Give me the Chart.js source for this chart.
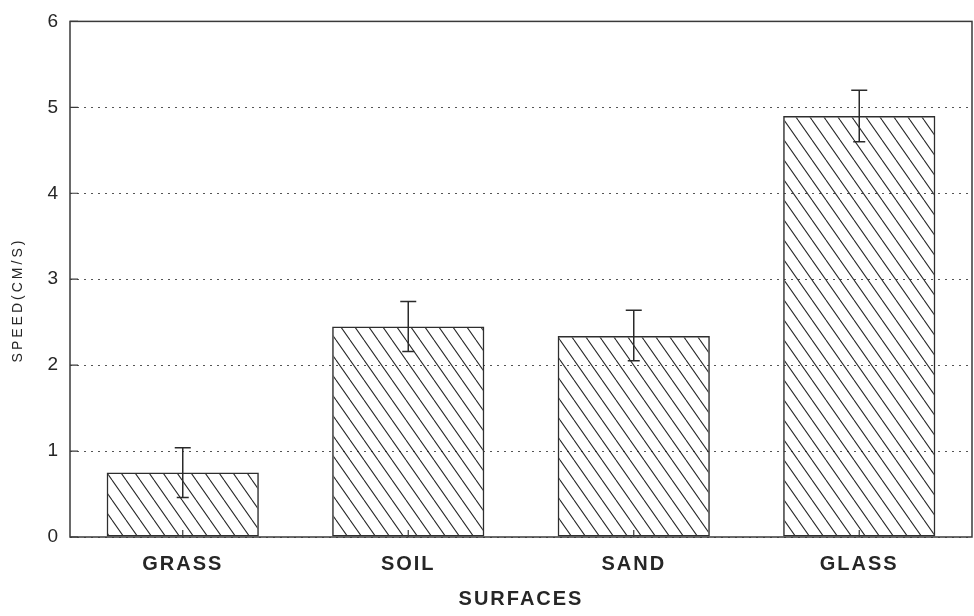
<!DOCTYPE html>
<html>
<head>
<meta charset="utf-8">
<script src="https://cdn.jsdelivr.net/npm/chart.js@4"></script>
<style>
  html, body { margin: 0; padding: 0; background: #fff; }
</style>
</head>
<body>
<canvas id="c" width="974" height="616"></canvas>
<script>
// Mean crawling speed per surface, with error bar half-widths
const surfaces = ['GRASS', 'SOIL', 'SAND', 'GLASS'];
const meanSpeed = [0.75, 2.45, 2.34, 4.90];
const errUpper = [0.29, 0.29, 0.30, 0.30];
const errLower = [0.29, 0.29, 0.29, 0.30];
const yTicks = [0, 1, 2, 3, 4, 5, 6];
const yTitle = 'SPEED(CM/S)';
const xTitle = 'SURFACES';

const INK = '#262626';

// Diagonal (top-left to bottom-right) hatch fill for the bars
function makeHatch() {
  const w = 14, h = 20;
  const tile = document.createElement('canvas');
  tile.width = w; tile.height = h;
  const g = tile.getContext('2d');
  g.strokeStyle = '#2a2a2a';
  g.lineWidth = 1.1;
  g.beginPath();
  for (const dx of [-w, 0, w]) {
    g.moveTo(dx, 0);
    g.lineTo(dx + w, h);
  }
  g.stroke();
  return g.createPattern(tile, 'repeat');
}

// Frame, inward tick marks, letter spacing and rotated y title
const framePlugin = {
  id: 'frame',
  beforeDraw(chart) {
    chart.ctx.letterSpacing = '2px';
  },
  afterDraw(chart) {
    const { ctx, chartArea: a, scales } = chart;
    ctx.save();
    ctx.letterSpacing = '0px';
    ctx.strokeStyle = '#3a3a3a';
    ctx.lineWidth = 1.5;
    ctx.strokeRect(a.left, a.top, a.right - a.left, a.bottom - a.top);
    ctx.lineWidth = 1.2;
    ctx.beginPath();
    yTicks.forEach(v => {
      const y = scales.y.getPixelForValue(v);
      ctx.moveTo(a.left, y); ctx.lineTo(a.left + 8, y);
    });
    surfaces.forEach((s, i) => {
      const x = scales.x.getPixelForValue(i);
      ctx.moveTo(x, a.bottom); ctx.lineTo(x, a.bottom - 7);
    });
    ctx.stroke();

    ctx.fillStyle = INK;
    ctx.font = '14px "Liberation Sans", Arial, sans-serif';
    ctx.letterSpacing = '3px';
    ctx.textAlign = 'center';
    ctx.textBaseline = 'middle';
    ctx.translate(18, 300);
    ctx.rotate(-Math.PI / 2);
    ctx.fillText(yTitle, 0, 0);
    ctx.restore();
  }
};

// Error bars drawn at each bar's value through the chart scales
const errorBarPlugin = {
  id: 'errorBars',
  afterDatasetsDraw(chart) {
    const { ctx, scales } = chart;
    ctx.save();
    ctx.strokeStyle = '#2a2a2a';
    ctx.lineWidth = 1.5;
    meanSpeed.forEach((v, i) => {
      const x = scales.x.getPixelForValue(i);
      const yHi = scales.y.getPixelForValue(v + errUpper[i]);
      const yLo = scales.y.getPixelForValue(v - errLower[i]);
      ctx.beginPath();
      ctx.moveTo(x, yHi); ctx.lineTo(x, yLo);
      ctx.moveTo(x - 8, yHi); ctx.lineTo(x + 8, yHi);
      ctx.moveTo(x - 6, yLo); ctx.lineTo(x + 6, yLo);
      ctx.stroke();
    });
    ctx.restore();
  }
};

new Chart(document.getElementById('c'), {
  type: 'bar',
  data: {
    labels: surfaces,
    datasets: [{
      data: meanSpeed,
      backgroundColor: makeHatch(),
      borderColor: '#2e2e2e',
      borderWidth: 1.5,
      borderSkipped: false,
      categoryPercentage: 1,
      barPercentage: 0.675
    }]
  },
  options: {
    responsive: false,
    animation: false,
    layout: { padding: { top: 18, right: 2, left: 0, bottom: 0 } },
    plugins: { legend: { display: false }, tooltip: { enabled: false } },
    scales: {
      x: {
        grid: { display: false, drawTicks: false },
        border: { display: false },
        ticks: {
          color: INK,
          padding: 15,
          font: { family: '"Liberation Sans", Arial, sans-serif', size: 20, weight: 'bold' }
        },
        title: {
          display: true,
          text: xTitle,
          color: INK,
          padding: { top: 0, bottom: 5 },
          font: { family: '"Liberation Sans", Arial, sans-serif', size: 20, weight: 'bold' }
        },
        afterFit(s) { s.height = 79; }
      },
      y: {
        min: 0,
        max: 6,
        afterBuildTicks(s) { s.ticks = yTicks.map(v => ({ value: v })); },
        grid: {
          color: '#555',
          lineWidth: 1,
          drawTicks: false
        },
        border: { display: false, dash: [2, 5] },
        ticks: {
          color: INK,
          padding: 10,
          font: { family: '"Liberation Sans", Arial, sans-serif', size: 19 }
        },
        afterFit(s) { s.width = 70; }
      }
    }
  },
  plugins: [framePlugin, errorBarPlugin]
});
</script>
</body>
</html>
